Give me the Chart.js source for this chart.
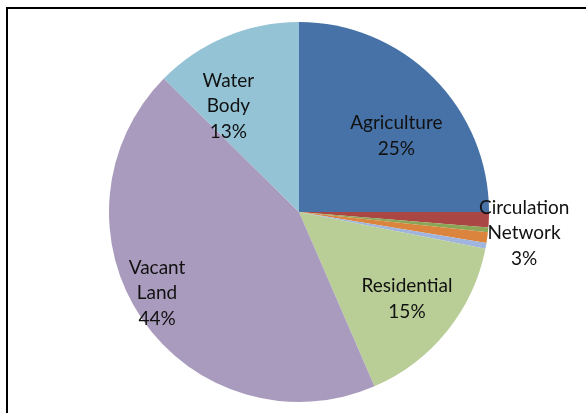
<!DOCTYPE html>
<html>
<head>
<meta charset="utf-8">
<script src="https://cdn.jsdelivr.net/npm/chart.js@4/dist/chart.umd.min.js"></script>
<style>
  html, body { margin: 0; padding: 0; background: #fff; }
  #wrap { position: relative; width: 586px; height: 413px; overflow: hidden; }
  #frame { position: absolute; left: 6px; top: 7px; width: 700px; height: 500px; border: 2px solid #000; box-sizing: border-box; }
  canvas { position: absolute; left: 0; top: 0; }
</style>
</head>
<body>
<div id="wrap">
  <div id="frame"></div>
  <canvas id="landUseChart" width="586" height="413"></canvas>
</div>
<script>
// land use shares (%), clockwise from 12 o'clock
var categories = ['Agriculture', 'Circulation Network', 'Other 1', 'Other 2', 'Other 3', 'Residential', 'Vacant Land', 'Water Body'];
var shares = [25.0, 1.3, 0.4, 0.9, 0.5, 15.4, 43.9, 12.6];
var labelText = ['Agriculture\n25%', 'Circulation\nNetwork\n3%', '', '', '', 'Residential\n15%', 'Vacant\nLand\n44%', 'Water\nBody\n13%'];
var colours = ['#4672a7', '#aa4644', '#8ba656', '#db843d', '#a0b5dd', '#b9cd96', '#a99bbd', '#93c3d5'];

// where each label sits: [angle shift in degrees, distance as a fraction of radius]
var labelPlace = [[7, 0.65], [3, 1.19], [0, 0], [0, 0], [0, 0], [0, 0.73], [4.7, 0.86], [-11, 0.67]];

const sliceLabels = {
    id: 'sliceLabels',
    afterDatasetsDraw(chart) {
        const ctx = chart.ctx;
        const arcs = chart.getDatasetMeta(0).data;
        ctx.save();
        ctx.font = '19px Lato';
        ctx.fillStyle = '#111';
        ctx.textAlign = 'center';
        ctx.textBaseline = 'middle';
        arcs.forEach(function (arc, i) {
            if (!labelText[i]) return;
            var mid = (arc.startAngle + arc.endAngle) / 2 + labelPlace[i][0] * Math.PI / 180;
            var r = arc.outerRadius * labelPlace[i][1];
            var x = arc.x + Math.cos(mid) * r;
            var y = arc.y + Math.sin(mid) * r;
            var lines = labelText[i].split('\n');
            var lh = 25.5;
            var y0 = y - (lines.length - 1) * lh / 2;
            lines.forEach(function (t, k) {
                ctx.fillText(t, x, y0 + k * lh);
            });
        });
        ctx.restore();
    }
};

const ctx = document.getElementById('landUseChart').getContext('2d');

new Chart(ctx, {
    type: 'pie',
    data: {
        labels: categories,
        datasets: [{
            data: shares,
            backgroundColor: colours,
            borderWidth: 0
        }]
    },
    options: {
        responsive: false,
        animation: false,
        layout: { padding: { left: 109, right: 97, top: 22, bottom: 11 } },
        plugins: {
            legend: { display: false },
            tooltip: { enabled: false }
        }
    },
    plugins: [sliceLabels]
});
</script>
</body>
</html>
